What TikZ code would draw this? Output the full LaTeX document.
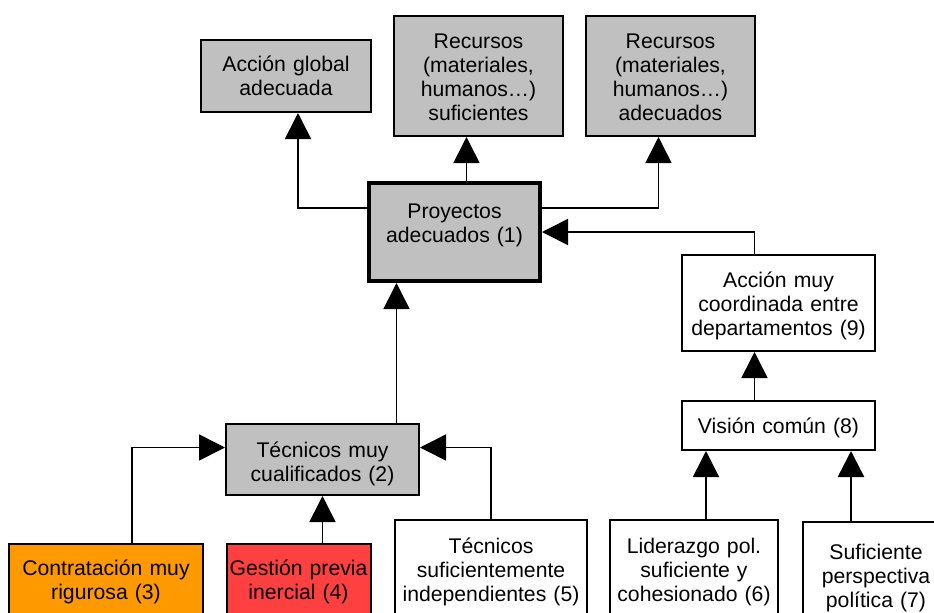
\documentclass[tikz,border=0pt]{standalone}
\usepackage{fontspec}
\setmainfont{Liberation Sans}
\usetikzlibrary{arrows.meta}

\definecolor{boxgray}{HTML}{C0C0C0}
\definecolor{hireorange}{HTML}{FF9900}
\definecolor{mgmtred}{HTML}{FF4040}

\tikzset{
  cbox/.style n args={3}{draw, line width=1pt, inner sep=0pt, anchor=north,
    align=center, text width=#1, text height=#2, text depth=#3},
  conn/.style={line width=0.8pt, -{Triangle[length=13pt,width=13pt]}},
}

\begin{document}
\begin{tikzpicture}[x=0.5pt, y=-0.5pt, font=\fontsize{10.6pt}{12pt}\selectfont]
  \useasboundingbox (0,0) rectangle (934,612);
  \clip (0,0) rectangle (934,612);

  % goals on top
  \node[cbox={85pt}{15.5pt}{20.5pt}, fill=boxgray] (glob) at (286,39) {Acción global\\adecuada};
  \node[cbox={84.5pt}{16pt}{44pt}, fill=boxgray] (rsuf) at (478.5,15) {Recursos\\(materiales,\\humanos…)\\suficientes};
  \node[cbox={84.5pt}{16pt}{44pt}, fill=boxgray] (radq) at (670.5,15) {Recursos\\(materiales,\\humanos…)\\adecuados};

  % middle
  \node[cbox={85.5pt}{17.5pt}{31.5pt}, fill=boxgray, line width=2pt] (proy) at (454.5,181) {Proyectos\\adecuados (1)};
  \node[cbox={96.5pt}{16pt}{32pt}, fill=white] (coord) at (778.5,254) {Acción muy\\coordinada entre\\departamentos (9)};
  \node[cbox={96.5pt}{16pt}{8.5pt}, fill=white] (vis) at (778.5,400) {Visión común (8)};
  \node[cbox={96.5pt}{16.5pt}{19pt}, fill=boxgray] (tec) at (322.5,423) {Técnicos muy\\cualificados (2)};

  % causes at the bottom (cut by the page edge)
  \node[cbox={97pt}{15.5pt}{40pt}, fill=hireorange] (contr) at (106,543) {Contratación muy\\rigurosa (3)};
  \node[cbox={72pt}{15.5pt}{40pt}, fill=mgmtred] (gest) at (298.5,543) {Gestión previa\\inercial (4)};
  \node[cbox={96pt}{16.5pt}{40pt}, fill=white] (indep) at (491,519) {Técnicos\\suficientemente\\independientes (5)};
  \node[cbox={84pt}{16.5pt}{40pt}, fill=white] (lider) at (694,519) {Liderazgo pol.\\suficiente y\\cohesionado (6)};
  \node[cbox={73pt}{18.5pt}{40pt}, fill=white] (persp) at (876,521) {Suficiente\\perspectiva\\política (7)};

  % links
  \draw[conn] ([yshift=12pt]proy.west) -| ([xshift=6pt]glob.south);
  \draw[conn] ([xshift=6pt]proy.north) -- ([xshift=6pt]proy.north |- rsuf.south);
  \draw[conn] ([yshift=12pt]proy.east) -| ([xshift=-6pt]radq.south);
  \draw[conn] ([xshift=-12pt]coord.north) |- (proy.east);
  \draw[conn] ([xshift=-29pt]proy.south |- tec.north) -- ([xshift=-29pt]proy.south);
  \draw[conn] ([xshift=13pt]contr.north) |- ([yshift=6pt]tec.west);
  \draw[conn] (tec.south |- gest.north) -- (tec.south);
  \draw[conn] (indep.north) |- ([yshift=6pt]tec.east);
  \draw[conn] ([xshift=-12pt]coord.south |- vis.north) -- ([xshift=-12pt]coord.south);
  \draw[conn] ([xshift=6pt]lider.north) -- ([xshift=6pt]lider.north |- vis.south);
  \draw[conn, line width=1.3pt] ([xshift=-12.5pt]persp.north) -- ([xshift=-12.5pt]persp.north |- vis.south);

\end{tikzpicture}
\end{document}
